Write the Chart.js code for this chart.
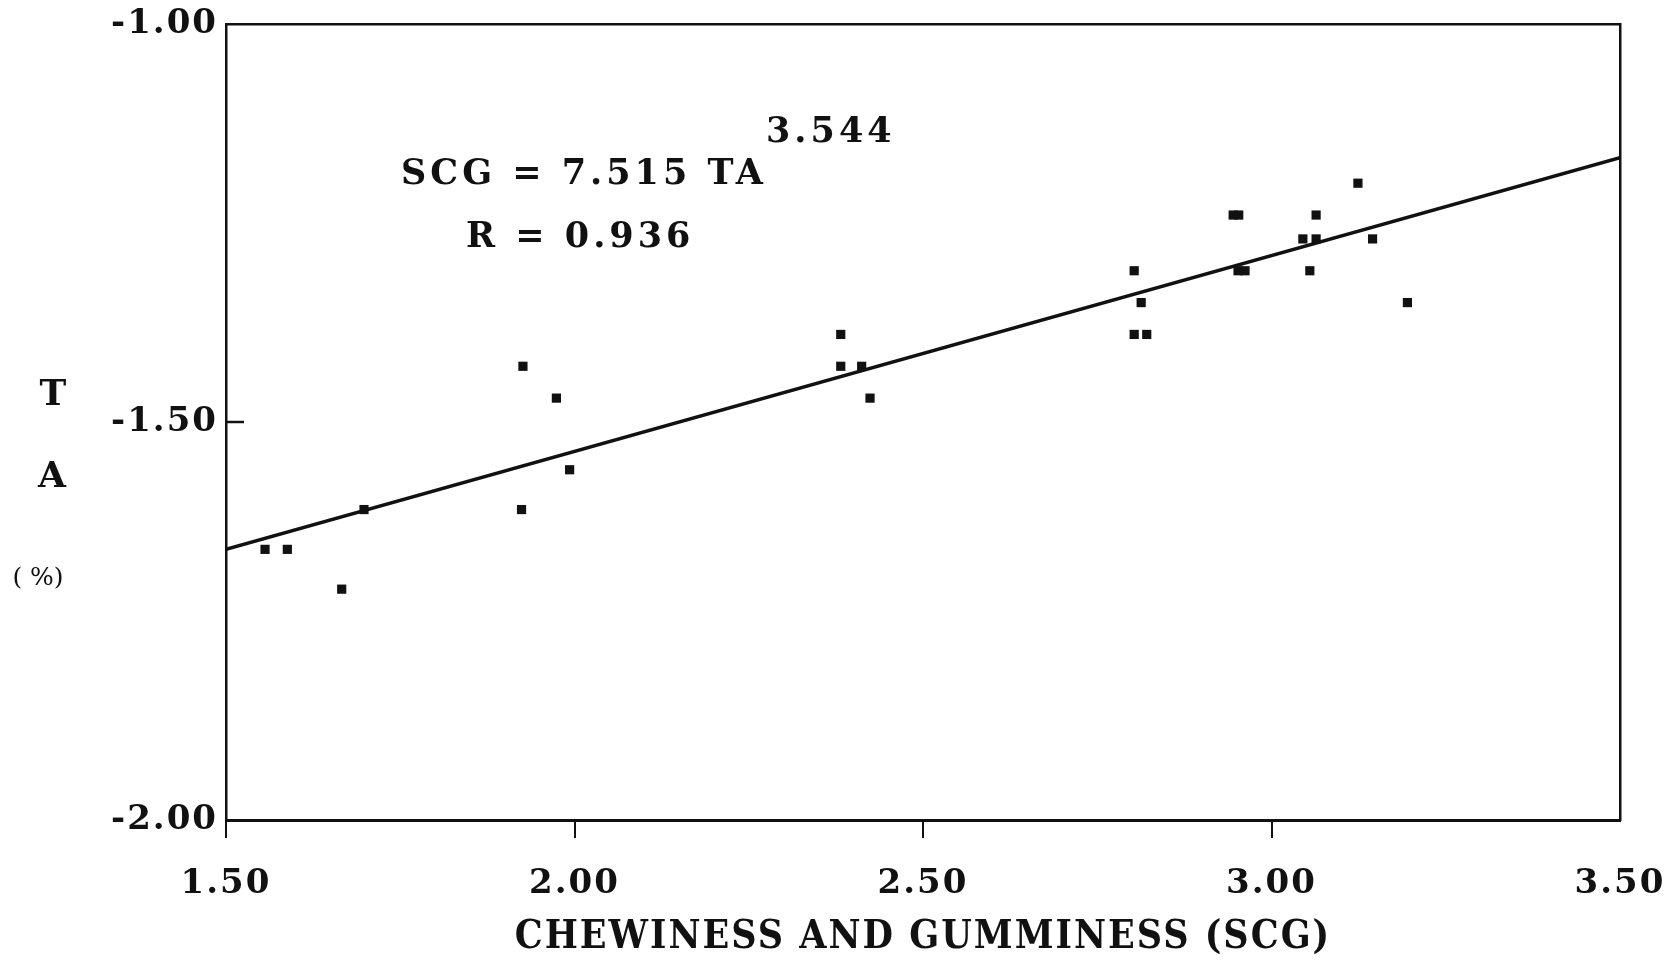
<!DOCTYPE html>
<html>
<head>
<meta charset="utf-8">
<title>Chewiness and gumminess vs TA</title>
<script src="https://cdn.jsdelivr.net/npm/chart.js@4/dist/chart.umd.min.js"></script>
<style>
  html, body { margin: 0; padding: 0; background: #ffffff; }
  #wrap { width: 1669px; height: 961px; }
</style>
</head>
<body>
<div id="wrap"><canvas id="c" width="1669" height="961"></canvas></div>
<script>
// Measured samples: chewiness and gumminess (SCG) against TA (%)
const scgValues = [1.556, 1.588, 1.666, 1.698, 1.926, 1.924, 1.974, 1.993,
                   2.382, 2.382, 2.412, 2.424, 2.803, 2.813, 2.803, 2.821,
                   2.945, 2.953, 2.952, 2.962, 3.045, 3.064, 3.064, 3.055,
                   3.124, 3.145, 3.195];
const taValues  = [-1.66, -1.66, -1.71, -1.61, -1.43, -1.61, -1.47, -1.56,
                   -1.39, -1.43, -1.43, -1.47, -1.31, -1.35, -1.39, -1.39,
                   -1.24, -1.24, -1.31, -1.31, -1.27, -1.24, -1.27, -1.31,
                   -1.20, -1.27, -1.35];

// Fitted curve, end points across the plotted SCG range
const fitScg = [1.50, 3.50];
const fitTa  = [-1.66, -1.168];

// Axis ticks
const xTicks = [1.50, 2.00, 2.50, 3.00, 3.50];
const yTicks = [-2.00, -1.50, -1.00];

const INK = '#111111';
const SERIF = "'DejaVu Serif', 'Liberation Serif', serif";
const SERIF_NARROW = "'DejaVu Serif Condensed', 'DejaVu Serif', serif";

const pts = scgValues.map((x, i) => ({ x, y: taValues[i] }));
const fit = fitScg.map((x, i) => ({ x, y: fitTa[i] }));

// Slightly open letter spacing for the axis labels
const spacing = {
  id: 'spacing',
  beforeDraw(chart) { chart.ctx.letterSpacing = '2px'; }
};

// Inward tick on the left axis and the free text of the figure
const decorations = {
  id: 'decorations',
  afterDraw(chart) {
    const { ctx, chartArea } = chart;
    const ys = chart.scales.y;
    ctx.save();
    ctx.strokeStyle = INK;
    ctx.lineWidth = 2.5;
    yTicks.forEach(v => {
      if (v === ys.min || v === ys.max) return;
      const py = ys.getPixelForValue(v);
      ctx.beginPath();
      ctx.moveTo(chartArea.left, py);
      ctx.lineTo(chartArea.left + 18, py);
      ctx.stroke();
    });

    ctx.fillStyle = INK;
    ctx.textBaseline = 'middle';
    ctx.textAlign = 'left';
    ctx.font = 'bold 35px ' + SERIF;
    ctx.letterSpacing = '4px';
    ctx.fillText('SCG = 7.515 TA', 401, 175);
    ctx.fillText('R = 0.936', 466, 238);
    ctx.fillText('3.544', 766, 133);

    ctx.letterSpacing = '0px';
    ctx.textAlign = 'center';
    ctx.font = 'bold 36px ' + SERIF;
    ctx.fillText('T', 53, 396);
    ctx.fillText('A', 52, 478);
    ctx.font = '25px ' + SERIF;
    ctx.fillText('( %)', 38, 578);
    ctx.restore();
  }
};

new Chart(document.getElementById('c'), {
  type: 'scatter',
  data: {
    datasets: [
      {
        label: 'samples',
        data: pts,
        pointStyle: 'rect',
        pointRadius: 6.5,
        pointHoverRadius: 6.5,
        backgroundColor: INK,
        borderColor: INK,
        borderWidth: 0
      },
      {
        label: 'fit',
        data: fit,
        showLine: true,
        pointRadius: 0,
        borderColor: INK,
        borderWidth: 3.5,
        fill: false
      }
    ]
  },
  options: {
    responsive: false,
    animation: false,
    devicePixelRatio: 1,
    layout: { padding: 0 },
    plugins: {
      legend: { display: false },
      tooltip: { enabled: false }
    },
    scales: {
      x: {
        type: 'linear',
        position: 'bottom',
        min: 1.5,
        max: 3.5,
        afterFit: s => { s.height = 141; s.paddingLeft = 0; s.paddingRight = 0; },
        afterBuildTicks: s => { s.ticks = xTicks.map(v => ({ value: v })); },
        ticks: {
          color: INK,
          padding: 26,
          maxRotation: 0,
          font: { family: SERIF, size: 34, weight: 'bold' },
          callback: v => Number(v).toFixed(2)
        },
        grid: {
          drawOnChartArea: false,
          drawTicks: true,
          tickLength: 18,
          lineWidth: 2,
          color: c => (c.tick && c.tick.value === 3.5) ? 'rgba(0,0,0,0)' : INK
        },
        border: { display: true, color: INK, width: 3 },
        title: {
          display: true,
          text: 'CHEWINESS AND GUMMINESS (SCG)',
          color: INK,
          font: { family: SERIF_NARROW, size: 39, weight: 'bold' },
          padding: { top: 0, bottom: 0 }
        }
      },
      y: {
        type: 'linear',
        position: 'left',
        min: -2,
        max: -1,
        afterFit: s => { s.width = 226; s.paddingTop = 0; s.paddingBottom = 0; },
        afterBuildTicks: s => { s.ticks = yTicks.map(v => ({ value: v })); },
        ticks: {
          color: INK,
          padding: 8,
          font: { family: SERIF, size: 34, weight: 'bold' },
          callback: v => Number(v).toFixed(2)
        },
        grid: { drawOnChartArea: false, drawTicks: false },
        border: { display: true, color: INK, width: 2.5 }
      },
      xTop: {
        type: 'linear',
        position: 'top',
        min: 1.5,
        max: 3.5,
        afterFit: s => { s.height = 24; s.paddingLeft = 0; s.paddingRight = 0; },
        ticks: { display: false },
        grid: { display: false, drawTicks: false },
        border: { display: true, color: INK, width: 2.5 }
      },
      yRight: {
        type: 'linear',
        position: 'right',
        min: -2,
        max: -1,
        afterFit: s => { s.width = 49; s.paddingTop = 0; s.paddingBottom = 0; },
        ticks: { display: false },
        grid: { display: false, drawTicks: false },
        border: { display: true, color: INK, width: 2.5 }
      }
    }
  },
  plugins: [spacing, decorations]
});
</script>
</body>
</html>
